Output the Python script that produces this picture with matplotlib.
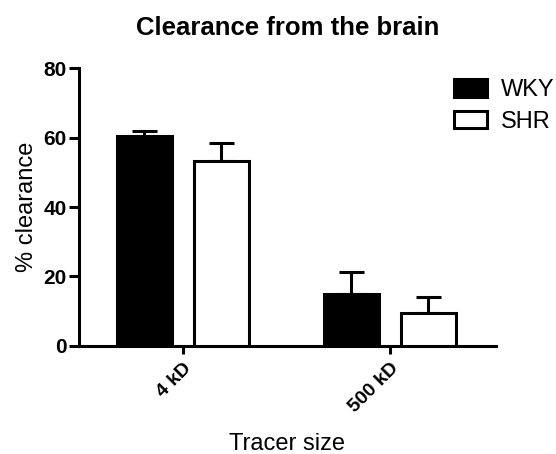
import matplotlib.pyplot as plt
import numpy as np

plt.rcParams['font.family'] = ['Liberation Sans', 'DejaVu Sans']

categories = ['4 kD', '500 kD']
wky = [60.4, 15.1]
wky_err = [1.6, 6.3]
shr = [53.2, 9.4]
shr_err = [5.1, 4.7]

fig = plt.figure(figsize=(5.56, 4.54), dpi=100)
ax = fig.add_axes([0.142, 0.238, 0.75, 0.612])

x = np.arange(len(categories))
w = 0.266
off = 0.186
lw = 2.2

ax.bar(x - off, wky, w, color='black', edgecolor='black', linewidth=lw, label='WKY', zorder=3)
ax.errorbar(x - off, wky, yerr=[np.zeros(2), wky_err], fmt='none', ecolor='black',
            elinewidth=lw, capsize=9, capthick=lw, zorder=2)
ax.bar(x + off, shr, w, color='white', edgecolor='black', linewidth=lw, label='SHR', zorder=3)
ax.errorbar(x + off, shr, yerr=[np.zeros(2), shr_err], fmt='none', ecolor='black',
            elinewidth=lw, capsize=9, capthick=lw, zorder=2)

ax.set_xlim(-0.502, 1.512)
ax.set_ylim(0, 80)
ax.set_yticks([0, 20, 40, 60, 80])
ax.set_xticks(x)
ax.set_xticklabels(categories, rotation=45, ha='right', rotation_mode='anchor',
                   fontsize=14, fontweight='bold')
for t in ax.get_yticklabels():
    t.set_fontsize(15)
    t.set_fontweight('bold')

for s in ['top', 'right']:
    ax.spines[s].set_visible(False)
for s in ['left', 'bottom']:
    ax.spines[s].set_linewidth(lw)
ax.tick_params(axis='y', length=7, width=lw, pad=2)
ax.tick_params(axis='x', length=6, width=lw, pad=4)

ax.set_ylabel('% clearance', fontsize=17, labelpad=4)
ax.set_xlabel('Tracer size', fontsize=17, labelpad=12)
ax.set_title('Clearance from the brain', fontsize=18.5, fontweight='bold', pad=24)

ax.legend(loc='upper left', bbox_to_anchor=(0.848, 1.036), frameon=False, fontsize=17,
          handlelength=1.4, handleheight=0.76, labelspacing=0.4, handletextpad=0.6)

fig.savefig('out.png', dpi=100)
